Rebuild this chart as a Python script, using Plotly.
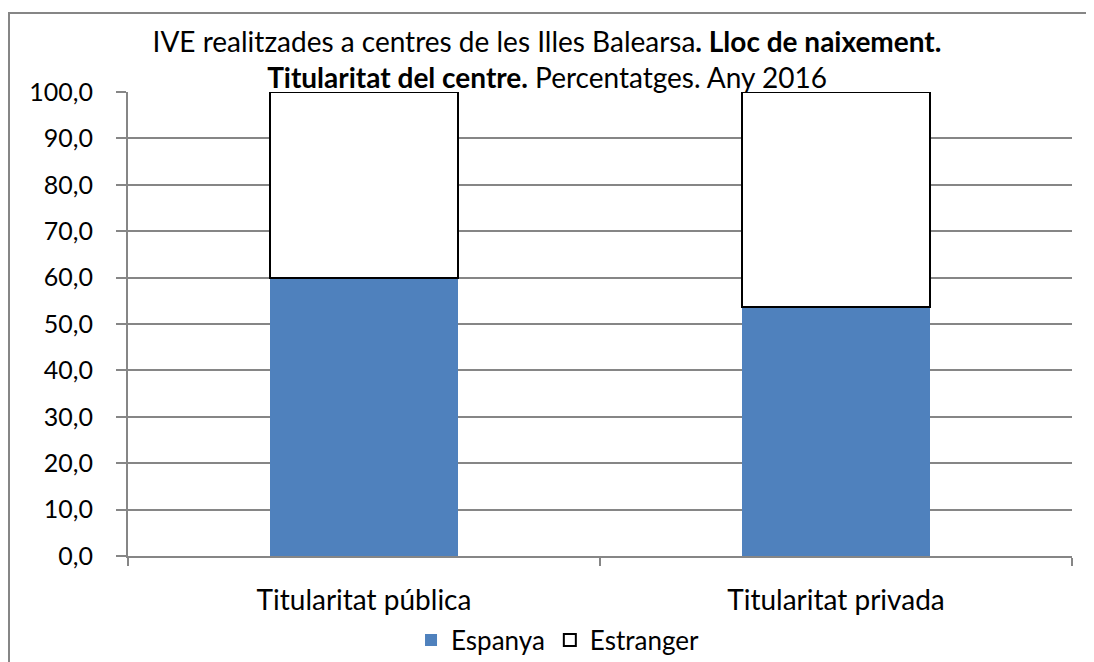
import plotly.graph_objects as go

categories = ["Titularitat pública", "Titularitat privada"]
espanya = [60.0, 53.6]
estranger = [40.0, 46.4]
yticks = [0, 10, 20, 30, 40, 50, 60, 70, 80, 90, 100]

FONT = "Lato, Liberation Sans, sans-serif"
GRAY = "#868686"

# page has an 8px body margin, so figure coordinates = page coordinates - 8
W, H = 1094, 662
L, T, PW, PH = 120, 84, 944, 464

fig = go.Figure()
fig.add_trace(go.Bar(name="Espanya", x=categories, y=espanya,
                     marker=dict(color="#4F81BD", line=dict(width=0)), width=0.4))
fig.add_trace(go.Bar(name="Estranger", x=categories, y=estranger,
                     marker=dict(color="white", line=dict(color="black", width=2)), width=0.4))

fig.update_layout(
    barmode="stack",
    width=W, height=H,
    margin=dict(l=L, r=W - L - PW, t=T, b=H - T - PH, autoexpand=False),
    paper_bgcolor="white", plot_bgcolor="white",
    separators=",.",
    font=dict(family=FONT, size=24, color="black"),
    title=dict(
        text="IVE realitzades a centres de les Illes Balearsa<b>. Lloc de naixement.</b><br>"
             "<b>Titularitat del centre.</b> Percentatges. Any 2016",
        x=(547 - 8) / W, xanchor="center", y=1 - 44 / H, yanchor="middle",
        font=dict(family=FONT, size=28)),
    showlegend=True,
    legend=dict(orientation="h", x=0.455, xanchor="center", y=(T + PH - 632) / PH,
                yanchor="middle", font=dict(family=FONT, size=26), traceorder="normal",
                itemwidth=30, bgcolor="rgba(0,0,0,0)"),
    xaxis=dict(type="category", tickson="boundaries", ticks="outside", ticklen=8,
               tickcolor=GRAY, tickwidth=1.5, showline=True, linecolor=GRAY, linewidth=2,
               showgrid=False, ticklabelstandoff=18,
               tickfont=dict(family=FONT, size=28)),
    yaxis=dict(range=[0, 100], tickvals=yticks, tickformat=".1f", ticks="outside",
               ticklen=10, tickcolor=GRAY, tickwidth=1.5, showline=True, linecolor=GRAY,
               linewidth=2, showgrid=True, gridcolor=GRAY, gridwidth=1.5,
               zeroline=False, ticklabelstandoff=18,
               tickfont=dict(family=FONT, size=25)),
)

fig.add_shape(type="rect", xref="paper", yref="paper",
              x0=(1 - L) / PW, x1=(1082 - L) / PW,
              y0=(T + PH - 700) / PH, y1=(T + PH - 5) / PH,
              line=dict(color=GRAY, width=2), fillcolor="rgba(0,0,0,0)", layer="below")

fig.write_html("out.html")
